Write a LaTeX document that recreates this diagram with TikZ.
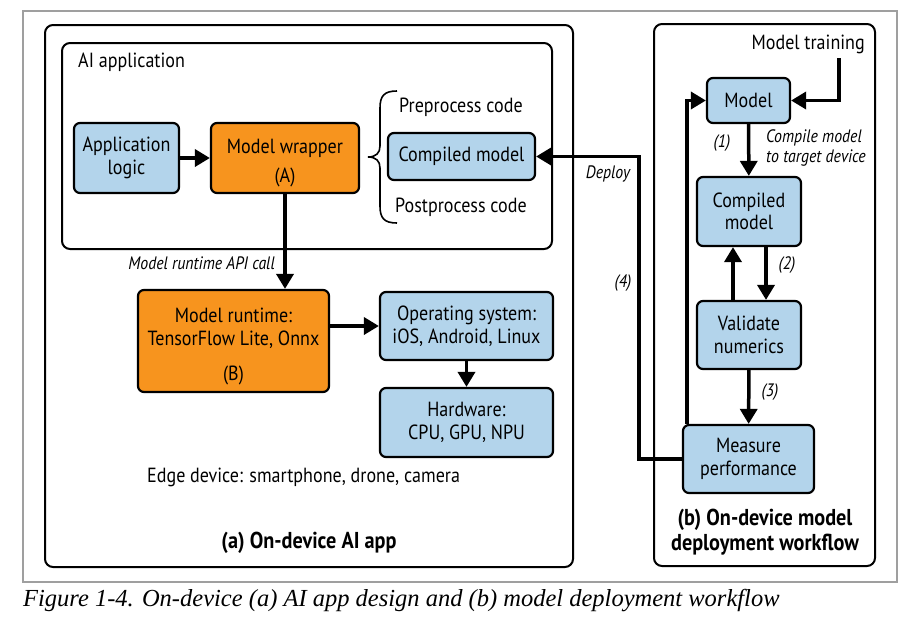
\documentclass[tikz,border=0pt]{standalone}
\usepackage{fontspec}
\setmainfont[FakeStretch=0.88]{PT Sans}
\newfontfamily\capfont{Liberation Serif}
\usetikzlibrary{arrows.meta,calc}
\definecolor{boxblue}{HTML}{B3D4EB}
\definecolor{boxorange}{HTML}{F7941E}
\newcommand\fntm{\fontsize{20.5}{22.5}\selectfont}
\newcommand\fnti{\fontsize{18}{19.5}\selectfont\itshape}
\newcommand\fntb{\fontsize{23}{25}\selectfont\bfseries}
\begin{document}
\begin{tikzpicture}[x=1pt,y=-1pt,
  box/.style={draw, line width=2.2pt, rounded corners=6pt, align=center, inner sep=0pt, font=\fntm},
  bbox/.style={box, fill=boxblue},
  obox/.style={box, fill=boxorange},
  cont/.style={draw, line width=2pt, rounded corners=8pt},
  arr/.style={line width=3.5pt, -{Triangle[length=15pt,width=17pt]}},
  lbl/.style={font=\fnti, inner sep=1pt},
  txt/.style={font=\fntm, inner sep=1pt}]
\useasboundingbox (0,0) rectangle (919,630);
% frames
\draw[gray!75, line width=1.2pt] (23,11) rectangle (897,582);
\draw[cont] (45,25) rectangle (573,567);
\draw[cont] (62,43) rectangle (552,249);
\draw[cont] (654,24) rectangle (875,566);
% left side nodes
\node[txt, anchor=west] (aiapp) at (77,62) {AI application};
\node[bbox, minimum width=105pt, minimum height=70pt] (appl) at (126.5,158) {Application\\logic};
\node[obox, minimum width=148pt, minimum height=70pt] (wrap) at (285,158) {\rule{0pt}{24pt}Model wrapper\\[7pt](A)};
\node[bbox, minimum width=147pt, minimum height=47pt] (cmpA) at (461.5,156.5) {Compiled model};
\node[txt, anchor=west] (pre) at (398,107) {Preprocess code};
\node[txt, anchor=west] (post) at (394,207) {Postprocess code};
\draw[line width=1.6pt] (397,91) .. controls (384,91) and (380,96) .. (380,108) -- (380,146)
  .. controls (380,153) and (376,157) .. (368,157)
  .. controls (376,157) and (380,161) .. (380,168) -- (380,206)
  .. controls (380,218) and (384,223) .. (397,223);
\node[obox, minimum width=191pt, minimum height=102pt] (rt) at (233.5,341) {\rule{0pt}{26pt}Model runtime:\\TensorFlow Lite, Onnx\\[13pt](B)};
\node[bbox, minimum width=173pt, minimum height=68pt] (os) at (466.5,326) {Operating system:\\iOS, Android, Linux};
\node[bbox, minimum width=173pt, minimum height=69pt] (hw) at (466.5,422.5) {Hardware:\\CPU, GPU, NPU};
\node[txt, anchor=west] (edge) at (146,477) {Edge device: smartphone, drone, camera};
\node[font=\fntb] (ta) at (309,543) {(a) On-device AI app};
\node[lbl, anchor=east] (apicall) at (276,263) {Model runtime API call};
% right side nodes
\node[txt, anchor=east] (train) at (866,44) {Model training};
\coordinate (trainpt) at (839,58);
\node[bbox, minimum width=83pt, minimum height=45pt] (model) at (748.5,100.5) {Model};
\node[bbox, minimum width=104pt, minimum height=69pt] (cmp) at (749,211.5) {Compiled\\model};
\node[bbox, minimum width=104pt, minimum height=68pt] (val) at (749,335) {Validate\\numerics};
\node[bbox, minimum width=131pt, minimum height=68pt] (meas) at (748.5,459) {Measure\\performance};
\node[font=\fntb, align=center] (tb) at (765,532) {(b) On-device model\\deployment workflow};
\node[lbl] (l1) at (722,143) {(1)};
\node[lbl, anchor=west, align=left] (l1b) at (765,148) {Compile model\\to target device};
\node[lbl] (l2) at (787,265) {(2)};
\node[lbl] (l3) at (770,392) {(3)};
\node[lbl] (l4) at (623,283) {(4)};
\node[lbl] (dep) at (608,174) {Deploy};
% arrows
\draw[arr] (appl) -- (wrap);
\draw[arr] (wrap.south) -- (wrap.south |- rt.north);
\draw[arr] (rt.east |- os) -- (os.west);
\draw[arr] (os) -- (hw);
\draw[arr] (trainpt) |- (model.east);
\draw[arr] (model) -- (cmp);
\draw[arr] (cmp.south -| 766,0) -- (val.north -| 766,0);
\draw[arr] (val.north -| 733,0) -- (cmp.south -| 733,0);
\draw[arr] (val) -- (meas);
\draw[arr] (meas.north -| 687,0) |- (model.west);
\draw[arr] (meas.west) -- ++(-43,0) |- (cmpA.east);
% caption
\node[anchor=west, inner sep=0pt, font=\capfont\itshape\fontsize{24.5}{27}\selectfont] (cap) at (23,601) {Figure 1-4. On-device (a) AI app design and (b) model deployment workflow};
\end{tikzpicture}
\end{document}
